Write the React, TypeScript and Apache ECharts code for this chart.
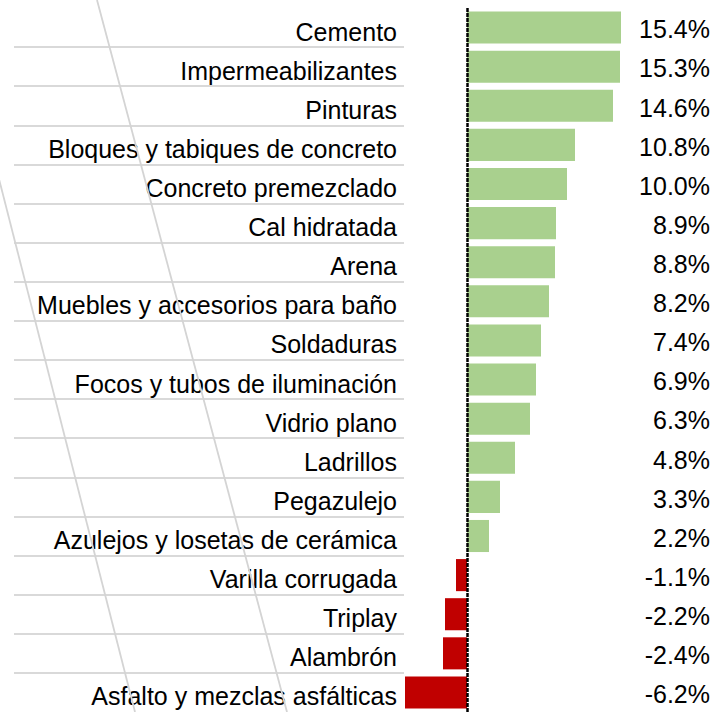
import React, { useEffect, useRef } from "react";
import * as echarts from "echarts";

const categories: string[] = [
  "Cemento",
  "Impermeabilizantes",
  "Pinturas",
  "Bloques y tabiques de concreto",
  "Concreto premezclado",
  "Cal hidratada",
  "Arena",
  "Muebles y accesorios para baño",
  "Soldaduras",
  "Focos y tubos de iluminación",
  "Vidrio plano",
  "Ladrillos",
  "Pegazulejo",
  "Azulejos y losetas de cerámica",
  "Varilla corrugada",
  "Triplay",
  "Alambrón",
  "Asfalto y mezclas asfálticas",
];

const values: number[] = [
  15.4, 15.3, 14.6, 10.8, 10.0, 8.9, 8.8, 8.2, 7.4, 6.9, 6.3, 4.8, 3.3, 2.2, -1.1, -2.2, -2.4, -6.2,
];

const POS_COLOR = "#a9d08e";
const NEG_COLOR = "#c00000";
const FONT = "'Liberation Sans', Arial, sans-serif";

const fmt = (v: number) => v.toFixed(1) + "%";

export default function App() {
  const ref = useRef<HTMLDivElement>(null);
  useEffect(() => {
    if (!ref.current) return;
    const chart = echarts.init(ref.current, null, { renderer: "svg" });
    const n = categories.length;
    chart.setOption({
      animation: false,
      backgroundColor: "#ffffff",
      grid: [
        { left: 397, width: 230, top: 8, height: 706, containLabel: false },
        { left: 14, width: 390, top: 8, height: 706, containLabel: false },
      ],
      xAxis: [
        { gridIndex: 0, type: "value", min: -7, max: 16, show: false },
        { gridIndex: 1, type: "value", min: 0, max: 1, show: false },
      ],
      yAxis: [
        {
          gridIndex: 0,
          type: "category",
          data: categories,
          inverse: true,
          position: "left",
          axisLine: { show: false },
          axisTick: { show: false },
          splitLine: { show: false },
          axisLabel: {
            margin: 0,
            fontFamily: FONT,
            fontSize: 25,
            color: "#000",
            align: "right",
            verticalAlign: "top",
            lineHeight: 8,
          },
        },
        {
          gridIndex: 0,
          type: "category",
          data: categories,
          inverse: true,
          position: "right",
          axisLine: { show: false },
          axisTick: { show: false },
          splitLine: { show: false },
          axisLabel: {
            margin: 83,
            fontFamily: FONT,
            fontSize: 25,
            color: "#000",
            align: "right",
            verticalAlign: "top",
            lineHeight: 3.5,
            formatter: (_v: string, idx: number) => fmt(values[idx]),
          },
        },
        {
          gridIndex: 1,
          type: "value",
          min: 0,
          max: n,
          interval: 1,
          inverse: true,
          axisLine: { show: false },
          axisTick: { show: false },
          axisLabel: { show: false },
          splitLine: {
            show: true,
            showMinLine: false,
            showMaxLine: false,
            lineStyle: { color: "#d9d9d9", width: 2 },
          },
        },
      ],
      series: [
        {
          type: "bar",
          xAxisIndex: 0,
          yAxisIndex: 0,
          data: values,
          barCategoryGap: "18%",
          itemStyle: {
            color: (p: any) => (p.value < 0 ? NEG_COLOR : POS_COLOR),
          },
          markLine: {
            silent: true,
            symbol: "none",
            label: { show: false },
            lineStyle: { color: "#000", width: 2.5, type: [4, 1] },
            data: [{ xAxis: 0 }],
          },
          z: 3,
        },
      ],
      graphic: [
        {
          type: "line",
          shape: { x1: 97, y1: 0, x2: 287, y2: 712 },
          style: { stroke: "#d4d4d4", lineWidth: 1.8 },
          z: 1,
          silent: true,
        },
        {
          type: "line",
          shape: { x1: -2, y1: 175, x2: 135, y2: 712 },
          style: { stroke: "#d4d4d4", lineWidth: 1.8 },
          z: 1,
          silent: true,
        },
      ],
    });
    return () => chart.dispose();
  }, []);
  return <div ref={ref} style={{ width: 715, height: 712, position: "fixed", left: 0, top: 0 }} />;
}
